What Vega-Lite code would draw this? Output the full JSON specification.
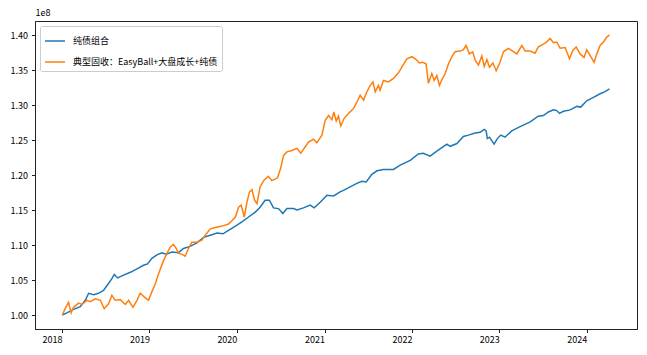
{
  "$schema": "https://vega.github.io/schema/vega-lite/v6.json",
  "autosize": "none",
  "width": 602,
  "height": 308,
  "padding": {"left": 35, "top": 21, "right": 10, "bottom": 26},
  "background": "white",
  "config": {
    "view": {"stroke": "#222222", "strokeWidth": 1},
    "font": "Noto Sans CJK SC",
    "axis": {"grid": false, "domainColor": "#222222", "tickColor": "#222222", "labelColor": "black", "tickSize": 3.5, "labelFontSize": 9, "labelFont": "Noto Sans CJK SC"}
  },
  "data": {"values": [
    {"d":"2018-01-02","s":"纯债组合","v":1.000e8},
    {"d":"2018-01-21","s":"纯债组合","v":1.003e8},
    {"d":"2018-02-18","s":"纯债组合","v":1.008e8},
    {"d":"2018-03-18","s":"纯债组合","v":1.012e8},
    {"d":"2018-04-08","s":"纯债组合","v":1.021e8},
    {"d":"2018-04-22","s":"纯债组合","v":1.031e8},
    {"d":"2018-05-13","s":"纯债组合","v":1.029e8},
    {"d":"2018-06-02","s":"纯债组合","v":1.031e8},
    {"d":"2018-06-23","s":"纯债组合","v":1.035e8},
    {"d":"2018-07-14","s":"纯债组合","v":1.045e8},
    {"d":"2018-07-28","s":"纯债组合","v":1.052e8},
    {"d":"2018-08-07","s":"纯债组合","v":1.058e8},
    {"d":"2018-08-21","s":"纯债组合","v":1.053e8},
    {"d":"2018-09-15","s":"纯债组合","v":1.057e8},
    {"d":"2018-10-13","s":"纯债组合","v":1.061e8},
    {"d":"2018-11-10","s":"纯债组合","v":1.066e8},
    {"d":"2018-12-07","s":"纯债组合","v":1.071e8},
    {"d":"2018-12-24","s":"纯债组合","v":1.073e8},
    {"d":"2019-01-11","s":"纯债组合","v":1.081e8},
    {"d":"2019-02-01","s":"纯债组合","v":1.086e8},
    {"d":"2019-02-22","s":"纯债组合","v":1.089e8},
    {"d":"2019-03-12","s":"纯债组合","v":1.087e8},
    {"d":"2019-04-05","s":"纯债组合","v":1.090e8},
    {"d":"2019-05-02","s":"纯债组合","v":1.089e8},
    {"d":"2019-05-23","s":"纯债组合","v":1.095e8},
    {"d":"2019-06-20","s":"纯债组合","v":1.098e8},
    {"d":"2019-07-18","s":"纯债组合","v":1.103e8},
    {"d":"2019-08-15","s":"纯债组合","v":1.111e8},
    {"d":"2019-09-12","s":"纯债组合","v":1.114e8},
    {"d":"2019-10-10","s":"纯债组合","v":1.117e8},
    {"d":"2019-11-04","s":"纯债组合","v":1.116e8},
    {"d":"2019-11-27","s":"纯债组合","v":1.121e8},
    {"d":"2019-12-26","s":"纯债组合","v":1.127e8},
    {"d":"2020-01-22","s":"纯债组合","v":1.133e8},
    {"d":"2020-02-19","s":"纯债组合","v":1.140e8},
    {"d":"2020-03-18","s":"纯债组合","v":1.147e8},
    {"d":"2020-04-07","s":"纯债组合","v":1.154e8},
    {"d":"2020-04-28","s":"纯债组合","v":1.164e8},
    {"d":"2020-05-16","s":"纯债组合","v":1.164e8},
    {"d":"2020-06-02","s":"纯债组合","v":1.153e8},
    {"d":"2020-06-23","s":"纯债组合","v":1.152e8},
    {"d":"2020-07-11","s":"纯债组合","v":1.145e8},
    {"d":"2020-07-28","s":"纯债组合","v":1.152e8},
    {"d":"2020-08-25","s":"纯债组合","v":1.152e8},
    {"d":"2020-09-08","s":"纯债组合","v":1.150e8},
    {"d":"2020-10-05","s":"纯债组合","v":1.153e8},
    {"d":"2020-11-02","s":"纯债组合","v":1.157e8},
    {"d":"2020-11-19","s":"纯债组合","v":1.153e8},
    {"d":"2020-12-14","s":"纯债组合","v":1.161e8},
    {"d":"2021-01-11","s":"纯债组合","v":1.171e8},
    {"d":"2021-02-08","s":"纯债组合","v":1.170e8},
    {"d":"2021-03-07","s":"纯债组合","v":1.176e8},
    {"d":"2021-03-21","s":"纯债组合","v":1.178e8},
    {"d":"2021-04-18","s":"纯债组合","v":1.183e8},
    {"d":"2021-05-16","s":"纯债组合","v":1.188e8},
    {"d":"2021-06-06","s":"纯债组合","v":1.191e8},
    {"d":"2021-06-24","s":"纯债组合","v":1.190e8},
    {"d":"2021-07-18","s":"纯债组合","v":1.201e8},
    {"d":"2021-08-08","s":"纯债组合","v":1.206e8},
    {"d":"2021-09-04","s":"纯债组合","v":1.208e8},
    {"d":"2021-10-16","s":"纯债组合","v":1.208e8},
    {"d":"2021-11-13","s":"纯债组合","v":1.214e8},
    {"d":"2021-12-25","s":"纯债组合","v":1.221e8},
    {"d":"2022-01-28","s":"纯债组合","v":1.230e8},
    {"d":"2022-02-18","s":"纯债组合","v":1.231e8},
    {"d":"2022-03-18","s":"纯债组合","v":1.227e8},
    {"d":"2022-04-15","s":"纯债组合","v":1.234e8},
    {"d":"2022-05-27","s":"纯债组合","v":1.244e8},
    {"d":"2022-06-10","s":"纯债组合","v":1.241e8},
    {"d":"2022-07-08","s":"纯债组合","v":1.245e8},
    {"d":"2022-08-04","s":"纯债组合","v":1.255e8},
    {"d":"2022-08-25","s":"纯债组合","v":1.257e8},
    {"d":"2022-09-22","s":"纯债组合","v":1.260e8},
    {"d":"2022-10-13","s":"纯债组合","v":1.261e8},
    {"d":"2022-10-30","s":"纯债组合","v":1.265e8},
    {"d":"2022-11-07","s":"纯债组合","v":1.263e8},
    {"d":"2022-11-12","s":"纯债组合","v":1.252e8},
    {"d":"2022-11-21","s":"纯债组合","v":1.254e8},
    {"d":"2022-12-10","s":"纯债组合","v":1.244e8},
    {"d":"2022-12-24","s":"纯债组合","v":1.252e8},
    {"d":"2023-01-07","s":"纯债组合","v":1.257e8},
    {"d":"2023-01-25","s":"纯债组合","v":1.254e8},
    {"d":"2023-02-22","s":"纯债组合","v":1.263e8},
    {"d":"2023-03-29","s":"纯债组合","v":1.269e8},
    {"d":"2023-05-10","s":"纯债组合","v":1.276e8},
    {"d":"2023-06-13","s":"纯债组合","v":1.284e8},
    {"d":"2023-07-04","s":"纯债组合","v":1.285e8},
    {"d":"2023-07-25","s":"纯债组合","v":1.290e8},
    {"d":"2023-08-15","s":"纯债组合","v":1.293e8},
    {"d":"2023-08-29","s":"纯债组合","v":1.292e8},
    {"d":"2023-09-09","s":"纯债组合","v":1.288e8},
    {"d":"2023-09-26","s":"纯债组合","v":1.291e8},
    {"d":"2023-10-24","s":"纯债组合","v":1.293e8},
    {"d":"2023-11-21","s":"纯债组合","v":1.298e8},
    {"d":"2023-12-07","s":"纯债组合","v":1.297e8},
    {"d":"2024-01-01","s":"纯债组合","v":1.306e8},
    {"d":"2024-01-29","s":"纯债组合","v":1.311e8},
    {"d":"2024-02-26","s":"纯债组合","v":1.316e8},
    {"d":"2024-03-18","s":"纯债组合","v":1.319e8},
    {"d":"2024-04-05","s":"纯债组合","v":1.323e8},

    {"d":"2018-01-02","s":"典型固收：EasyBall+大盘成长+纯债","v":1.000e8},
    {"d":"2018-01-14","s":"典型固收：EasyBall+大盘成长+纯债","v":1.009e8},
    {"d":"2018-01-28","s":"典型固收：EasyBall+大盘成长+纯债","v":1.018e8},
    {"d":"2018-02-08","s":"典型固收：EasyBall+大盘成长+纯债","v":1.003e8},
    {"d":"2018-02-18","s":"典型固收：EasyBall+大盘成长+纯债","v":1.011e8},
    {"d":"2018-03-11","s":"典型固收：EasyBall+大盘成长+纯债","v":1.017e8},
    {"d":"2018-03-25","s":"典型固收：EasyBall+大盘成长+纯债","v":1.015e8},
    {"d":"2018-04-15","s":"典型固收：EasyBall+大盘成长+纯债","v":1.021e8},
    {"d":"2018-04-29","s":"典型固收：EasyBall+大盘成长+纯债","v":1.019e8},
    {"d":"2018-05-20","s":"典型固收：EasyBall+大盘成长+纯债","v":1.023e8},
    {"d":"2018-06-10","s":"典型固收：EasyBall+大盘成长+纯债","v":1.021e8},
    {"d":"2018-06-26","s":"典型固收：EasyBall+大盘成长+纯债","v":1.009e8},
    {"d":"2018-07-14","s":"典型固收：EasyBall+大盘成长+纯债","v":1.016e8},
    {"d":"2018-07-28","s":"典型固收：EasyBall+大盘成长+纯债","v":1.028e8},
    {"d":"2018-08-11","s":"典型固收：EasyBall+大盘成长+纯债","v":1.021e8},
    {"d":"2018-09-01","s":"典型固收：EasyBall+大盘成长+纯债","v":1.022e8},
    {"d":"2018-09-22","s":"典型固收：EasyBall+大盘成长+纯债","v":1.015e8},
    {"d":"2018-10-06","s":"典型固收：EasyBall+大盘成长+纯债","v":1.021e8},
    {"d":"2018-10-24","s":"典型固收：EasyBall+大盘成长+纯债","v":1.011e8},
    {"d":"2018-11-10","s":"典型固收：EasyBall+大盘成长+纯债","v":1.021e8},
    {"d":"2018-11-23","s":"典型固收：EasyBall+大盘成长+纯债","v":1.031e8},
    {"d":"2018-12-10","s":"典型固收：EasyBall+大盘成长+纯债","v":1.026e8},
    {"d":"2018-12-28","s":"典型固收：EasyBall+大盘成长+纯债","v":1.021e8},
    {"d":"2019-01-11","s":"典型固收：EasyBall+大盘成长+纯债","v":1.033e8},
    {"d":"2019-01-25","s":"典型固收：EasyBall+大盘成长+纯债","v":1.044e8},
    {"d":"2019-02-08","s":"典型固收：EasyBall+大盘成长+纯债","v":1.059e8},
    {"d":"2019-03-01","s":"典型固收：EasyBall+大盘成长+纯债","v":1.078e8},
    {"d":"2019-03-15","s":"典型固收：EasyBall+大盘成长+纯债","v":1.088e8},
    {"d":"2019-03-29","s":"典型固收：EasyBall+大盘成长+纯债","v":1.097e8},
    {"d":"2019-04-11","s":"典型固收：EasyBall+大盘成长+纯债","v":1.101e8},
    {"d":"2019-04-23","s":"典型固收：EasyBall+大盘成长+纯债","v":1.095e8},
    {"d":"2019-05-02","s":"典型固收：EasyBall+大盘成长+纯债","v":1.088e8},
    {"d":"2019-05-16","s":"典型固收：EasyBall+大盘成长+纯债","v":1.087e8},
    {"d":"2019-05-30","s":"典型固收：EasyBall+大盘成长+纯债","v":1.084e8},
    {"d":"2019-06-13","s":"典型固收：EasyBall+大盘成长+纯债","v":1.095e8},
    {"d":"2019-06-27","s":"典型固收：EasyBall+大盘成长+纯债","v":1.104e8},
    {"d":"2019-07-18","s":"典型固收：EasyBall+大盘成长+纯债","v":1.104e8},
    {"d":"2019-08-08","s":"典型固收：EasyBall+大盘成长+纯债","v":1.107e8},
    {"d":"2019-08-22","s":"典型固收：EasyBall+大盘成长+纯债","v":1.114e8},
    {"d":"2019-09-12","s":"典型固收：EasyBall+大盘成长+纯债","v":1.123e8},
    {"d":"2019-10-03","s":"典型固收：EasyBall+大盘成长+纯债","v":1.125e8},
    {"d":"2019-10-31","s":"典型固收：EasyBall+大盘成长+纯债","v":1.127e8},
    {"d":"2019-11-27","s":"典型固收：EasyBall+大盘成长+纯债","v":1.130e8},
    {"d":"2019-12-12","s":"典型固收：EasyBall+大盘成长+纯债","v":1.135e8},
    {"d":"2019-12-26","s":"典型固收：EasyBall+大盘成长+纯债","v":1.140e8},
    {"d":"2020-01-08","s":"典型固收：EasyBall+大盘成长+纯债","v":1.154e8},
    {"d":"2020-01-19","s":"典型固收：EasyBall+大盘成长+纯债","v":1.157e8},
    {"d":"2020-02-01","s":"典型固收：EasyBall+大盘成长+纯债","v":1.140e8},
    {"d":"2020-02-12","s":"典型固收：EasyBall+大盘成长+纯债","v":1.161e8},
    {"d":"2020-02-23","s":"典型固收：EasyBall+大盘成长+纯债","v":1.176e8},
    {"d":"2020-03-04","s":"典型固收：EasyBall+大盘成长+纯债","v":1.179e8},
    {"d":"2020-03-15","s":"典型固收：EasyBall+大盘成长+纯债","v":1.164e8},
    {"d":"2020-03-25","s":"典型固收：EasyBall+大盘成长+纯债","v":1.159e8},
    {"d":"2020-04-07","s":"典型固收：EasyBall+大盘成长+纯债","v":1.183e8},
    {"d":"2020-04-24","s":"典型固收：EasyBall+大盘成长+纯债","v":1.193e8},
    {"d":"2020-05-12","s":"典型固收：EasyBall+大盘成长+纯债","v":1.198e8},
    {"d":"2020-05-26","s":"典型固收：EasyBall+大盘成长+纯债","v":1.192e8},
    {"d":"2020-06-19","s":"典型固收：EasyBall+大盘成长+纯债","v":1.196e8},
    {"d":"2020-07-03","s":"典型固收：EasyBall+大盘成长+纯债","v":1.211e8},
    {"d":"2020-07-14","s":"典型固收：EasyBall+大盘成长+纯债","v":1.228e8},
    {"d":"2020-07-28","s":"典型固收：EasyBall+大盘成长+纯债","v":1.233e8},
    {"d":"2020-08-18","s":"典型固收：EasyBall+大盘成长+纯债","v":1.235e8},
    {"d":"2020-09-08","s":"典型固收：EasyBall+大盘成长+纯债","v":1.238e8},
    {"d":"2020-09-24","s":"典型固收：EasyBall+大盘成长+纯债","v":1.231e8},
    {"d":"2020-10-12","s":"典型固收：EasyBall+大盘成长+纯债","v":1.240e8},
    {"d":"2020-10-26","s":"典型固收：EasyBall+大盘成长+纯债","v":1.247e8},
    {"d":"2020-11-16","s":"典型固收：EasyBall+大盘成长+纯债","v":1.251e8},
    {"d":"2020-11-30","s":"典型固收：EasyBall+大盘成长+纯债","v":1.246e8},
    {"d":"2020-12-21","s":"典型固收：EasyBall+大盘成长+纯债","v":1.257e8},
    {"d":"2021-01-04","s":"典型固收：EasyBall+大盘成长+纯债","v":1.278e8},
    {"d":"2021-01-18","s":"典型固收：EasyBall+大盘成长+纯债","v":1.285e8},
    {"d":"2021-02-01","s":"典型固收：EasyBall+大盘成长+纯债","v":1.279e8},
    {"d":"2021-02-09","s":"典型固收：EasyBall+大盘成长+纯债","v":1.290e8},
    {"d":"2021-02-19","s":"典型固收：EasyBall+大盘成长+纯债","v":1.277e8},
    {"d":"2021-02-28","s":"典型固收：EasyBall+大盘成长+纯债","v":1.284e8},
    {"d":"2021-03-10","s":"典型固收：EasyBall+大盘成长+纯债","v":1.270e8},
    {"d":"2021-03-24","s":"典型固收：EasyBall+大盘成长+纯债","v":1.281e8},
    {"d":"2021-04-11","s":"典型固收：EasyBall+大盘成长+纯债","v":1.288e8},
    {"d":"2021-05-02","s":"典型固收：EasyBall+大盘成长+纯债","v":1.295e8},
    {"d":"2021-05-16","s":"典型固收：EasyBall+大盘成长+纯债","v":1.304e8},
    {"d":"2021-05-30","s":"典型固收：EasyBall+大盘成长+纯债","v":1.314e8},
    {"d":"2021-06-13","s":"典型固收：EasyBall+大盘成长+纯债","v":1.307e8},
    {"d":"2021-06-27","s":"典型固收：EasyBall+大盘成长+纯债","v":1.319e8},
    {"d":"2021-07-11","s":"典型固收：EasyBall+大盘成长+纯债","v":1.328e8},
    {"d":"2021-07-22","s":"典型固收：EasyBall+大盘成长+纯债","v":1.333e8},
    {"d":"2021-08-01","s":"典型固收：EasyBall+大盘成长+纯债","v":1.319e8},
    {"d":"2021-08-14","s":"典型固收：EasyBall+大盘成长+纯债","v":1.328e8},
    {"d":"2021-08-21","s":"典型固收：EasyBall+大盘成长+纯债","v":1.321e8},
    {"d":"2021-09-04","s":"典型固收：EasyBall+大盘成长+纯债","v":1.335e8},
    {"d":"2021-09-25","s":"典型固收：EasyBall+大盘成长+纯债","v":1.333e8},
    {"d":"2021-10-16","s":"典型固收：EasyBall+大盘成长+纯债","v":1.338e8},
    {"d":"2021-11-06","s":"典型固收：EasyBall+大盘成长+纯债","v":1.346e8},
    {"d":"2021-11-20","s":"典型固收：EasyBall+大盘成长+纯债","v":1.354e8},
    {"d":"2021-12-11","s":"典型固收：EasyBall+大盘成长+纯债","v":1.366e8},
    {"d":"2022-01-01","s":"典型固收：EasyBall+大盘成长+纯债","v":1.369e8},
    {"d":"2022-01-19","s":"典型固收：EasyBall+大盘成长+纯债","v":1.365e8},
    {"d":"2022-02-01","s":"典型固收：EasyBall+大盘成长+纯债","v":1.360e8},
    {"d":"2022-02-15","s":"典型固收：EasyBall+大盘成长+纯债","v":1.361e8},
    {"d":"2022-03-01","s":"典型固收：EasyBall+大盘成长+纯债","v":1.359e8},
    {"d":"2022-03-11","s":"典型固收：EasyBall+大盘成长+纯债","v":1.331e8},
    {"d":"2022-03-25","s":"典型固收：EasyBall+大盘成长+纯债","v":1.345e8},
    {"d":"2022-04-04","s":"典型固收：EasyBall+大盘成长+纯债","v":1.335e8},
    {"d":"2022-04-15","s":"典型固收：EasyBall+大盘成长+纯债","v":1.342e8},
    {"d":"2022-04-26","s":"典型固收：EasyBall+大盘成长+纯债","v":1.328e8},
    {"d":"2022-05-06","s":"典型固收：EasyBall+大盘成长+纯债","v":1.336e8},
    {"d":"2022-05-20","s":"典型固收：EasyBall+大盘成长+纯债","v":1.345e8},
    {"d":"2022-06-03","s":"典型固收：EasyBall+大盘成长+纯债","v":1.359e8},
    {"d":"2022-06-17","s":"典型固收：EasyBall+大盘成长+纯债","v":1.369e8},
    {"d":"2022-06-30","s":"典型固收：EasyBall+大盘成长+纯债","v":1.376e8},
    {"d":"2022-07-21","s":"典型固收：EasyBall+大盘成长+纯债","v":1.377e8},
    {"d":"2022-08-04","s":"典型固收：EasyBall+大盘成长+纯债","v":1.379e8},
    {"d":"2022-08-15","s":"典型固收：EasyBall+大盘成长+纯债","v":1.385e8},
    {"d":"2022-08-29","s":"典型固收：EasyBall+大盘成长+纯债","v":1.373e8},
    {"d":"2022-09-12","s":"典型固收：EasyBall+大盘成长+纯债","v":1.376e8},
    {"d":"2022-09-22","s":"典型固收：EasyBall+大盘成长+纯债","v":1.364e8},
    {"d":"2022-10-06","s":"典型固收：EasyBall+大盘成长+纯债","v":1.357e8},
    {"d":"2022-10-20","s":"典型固收：EasyBall+大盘成长+纯债","v":1.370e8},
    {"d":"2022-10-30","s":"典型固收：EasyBall+大盘成长+纯债","v":1.355e8},
    {"d":"2022-11-10","s":"典型固收：EasyBall+大盘成长+纯债","v":1.365e8},
    {"d":"2022-11-21","s":"典型固收：EasyBall+大盘成长+纯债","v":1.354e8},
    {"d":"2022-12-05","s":"典型固收：EasyBall+大盘成长+纯债","v":1.360e8},
    {"d":"2022-12-19","s":"典型固收：EasyBall+大盘成长+纯债","v":1.349e8},
    {"d":"2023-01-04","s":"典型固收：EasyBall+大盘成长+纯债","v":1.361e8},
    {"d":"2023-01-18","s":"典型固收：EasyBall+大盘成长+纯债","v":1.376e8},
    {"d":"2023-02-08","s":"典型固收：EasyBall+大盘成长+纯债","v":1.381e8},
    {"d":"2023-02-26","s":"典型固收：EasyBall+大盘成长+纯债","v":1.377e8},
    {"d":"2023-03-15","s":"典型固收：EasyBall+大盘成长+纯债","v":1.373e8},
    {"d":"2023-04-05","s":"典型固收：EasyBall+大盘成长+纯债","v":1.385e8},
    {"d":"2023-04-19","s":"典型固收：EasyBall+大盘成长+纯债","v":1.377e8},
    {"d":"2023-05-10","s":"典型固收：EasyBall+大盘成长+纯债","v":1.377e8},
    {"d":"2023-05-30","s":"典型固收：EasyBall+大盘成长+纯债","v":1.374e8},
    {"d":"2023-06-13","s":"典型固收：EasyBall+大盘成长+纯债","v":1.383e8},
    {"d":"2023-07-04","s":"典型固收：EasyBall+大盘成长+纯债","v":1.387e8},
    {"d":"2023-07-18","s":"典型固收：EasyBall+大盘成长+纯债","v":1.390e8},
    {"d":"2023-08-01","s":"典型固收：EasyBall+大盘成长+纯债","v":1.395e8},
    {"d":"2023-08-15","s":"典型固收：EasyBall+大盘成长+纯债","v":1.389e8},
    {"d":"2023-08-29","s":"典型固收：EasyBall+大盘成长+纯债","v":1.390e8},
    {"d":"2023-09-12","s":"典型固收：EasyBall+大盘成长+纯债","v":1.381e8},
    {"d":"2023-10-03","s":"典型固收：EasyBall+大盘成长+纯债","v":1.382e8},
    {"d":"2023-10-21","s":"典型固收：EasyBall+大盘成长+纯债","v":1.366e8},
    {"d":"2023-11-04","s":"典型固收：EasyBall+大盘成长+纯债","v":1.378e8},
    {"d":"2023-11-18","s":"典型固收：EasyBall+大盘成长+纯债","v":1.383e8},
    {"d":"2023-12-04","s":"典型固收：EasyBall+大盘成长+纯债","v":1.373e8},
    {"d":"2023-12-21","s":"典型固收：EasyBall+大盘成长+纯债","v":1.368e8},
    {"d":"2024-01-01","s":"典型固收：EasyBall+大盘成长+纯债","v":1.379e8},
    {"d":"2024-01-15","s":"典型固收：EasyBall+大盘成长+纯债","v":1.371e8},
    {"d":"2024-02-01","s":"典型固收：EasyBall+大盘成长+纯债","v":1.361e8},
    {"d":"2024-02-12","s":"典型固收：EasyBall+大盘成长+纯债","v":1.373e8},
    {"d":"2024-02-26","s":"典型固收：EasyBall+大盘成长+纯债","v":1.385e8},
    {"d":"2024-03-11","s":"典型固收：EasyBall+大盘成长+纯债","v":1.390e8},
    {"d":"2024-03-25","s":"典型固收：EasyBall+大盘成长+纯债","v":1.397e8},
    {"d":"2024-04-05","s":"典型固收：EasyBall+大盘成长+纯债","v":1.400e8}
  ]},
  "mark": {"type": "line", "strokeWidth": 1.5, "clip": true},
  "encoding": {
    "x": {
      "field": "d", "type": "temporal",
      "scale": {"domain": ["2017-09-10", "2024-07-29"], "nice": false},
      "axis": {"title": null, "format": "%Y", "tickCount": {"interval": "year", "step": 1}, "labelAlign": "right", "labelDx": 1, "labelPadding": 3, "labelFlush": false}
    },
    "y": {
      "field": "v", "type": "quantitative",
      "scale": {"domain": [0.98e8, 1.42e8], "nice": false, "zero": false},
      "axis": {
        "values": [1.0e8, 1.05e8, 1.1e8, 1.15e8, 1.2e8, 1.25e8, 1.3e8, 1.35e8, 1.4e8],
        "labelExpr": "format(datum.value / 1e8, '.2f')",
        "labelPadding": 4,
        "title": "1e8", "titleAngle": 0, "titleX": 0, "titleY": -4, "titleAlign": "left", "titleBaseline": "bottom", "titleFontWeight": "normal", "titleFontSize": 9, "titleFont": "Noto Sans CJK SC"
      }
    },
    "color": {
      "field": "s", "type": "nominal",
      "scale": {"domain": ["纯债组合", "典型固收：EasyBall+大盘成长+纯债"], "range": ["#1f77b4", "#ff7f0e"]},
      "legend": {
        "title": null, "orient": "top-left", "offset": 5,
        "symbolType": "stroke", "symbolSize": 400, "symbolStrokeWidth": 1.5,
        "labelFontSize": 9, "labelFont": "Noto Sans CJK SC", "labelColor": "black",
        "strokeColor": "#cccccc", "fillColor": "white", "padding": 4, "cornerRadius": 2, "rowPadding": 5, "labelOffset": 7
      }
    }
  }
}
